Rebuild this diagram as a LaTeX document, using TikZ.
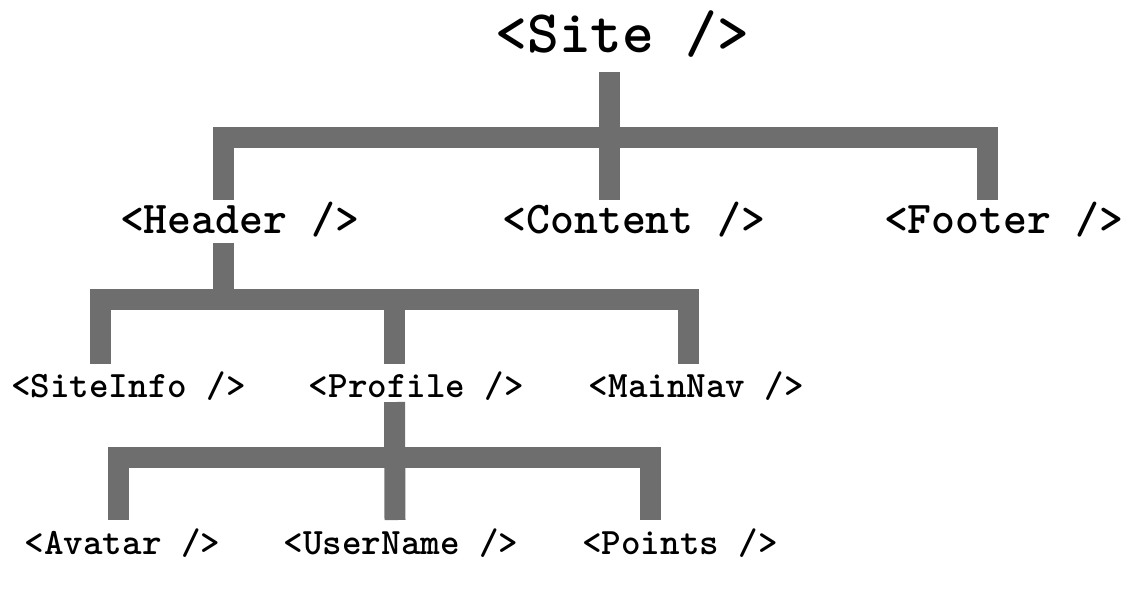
\documentclass[tikz,border=0pt]{standalone}
\usepackage{fontspec}
\usepackage{xcolor}
\usepackage{tikz}

\begin{document}
\begin{tikzpicture}[x=0.02cm,y=-0.02cm]
    \definecolor{mygray}{RGB}{110,110,110}
    \tikzstyle{tag}=[font=\ttfamily\bfseries,inner sep=0pt,anchor=base]  % component label
    \tikzstyle{bar}=[draw=mygray,line width=0.42cm]  % thick tree line
    \useasboundingbox (0,0) rectangle (1146,593);

    % labels
    \node[tag,font=\ttfamily\bfseries\fontsize{34.4pt}{40pt}\selectfont] (site) at (622.5,52) {<Site />};
    \node[tag,font=\ttfamily\bfseries\fontsize{25.9pt}{30pt}\selectfont] (header) at (239.5,233) {<Header />};
    \node[tag,font=\ttfamily\bfseries\fontsize{25.9pt}{30pt}\selectfont] (content) at (634,233) {<Content />};
    \node[tag,font=\ttfamily\bfseries\fontsize{25.9pt}{30pt}\selectfont] (footer) at (1003.5,233) {<Footer />};
    \node[tag,font=\ttfamily\bfseries\fontsize{21.2pt}{25pt}\selectfont] (siteinfo) at (128.5,397) {<SiteInfo />};
    \node[tag,font=\ttfamily\bfseries\fontsize{21.2pt}{25pt}\selectfont] (profile) at (416.5,397) {<Profile />};
    \node[tag,font=\ttfamily\bfseries\fontsize{21.2pt}{25pt}\selectfont] (mainnav) at (696.5,397) {<MainNav />};
    \node[tag,font=\ttfamily\bfseries\fontsize{21.2pt}{25pt}\selectfont] (avatar) at (122.5,554) {<Avatar />};
    \node[tag,font=\ttfamily\bfseries\fontsize{21.2pt}{25pt}\selectfont] (username) at (401,554) {<UserName />};
    \node[tag,font=\ttfamily\bfseries\fontsize{21.2pt}{25pt}\selectfont] (points) at (680,554) {<Points />};

    % line ends
    \coordinate (site-out) at (609,72);
    \coordinate (header-in) at (223,200);
    \coordinate (content-in) at (609,200);
    \coordinate (footer-in) at (987.5,200);
    \coordinate (header-out) at (223,243);
    \coordinate (siteinfo-in) at (100.5,364);
    \coordinate (profile-in) at (394.5,364);
    \coordinate (mainnav-in) at (688.5,364);
    \coordinate (profile-out) at (394.5,402);
    \coordinate (avatar-in) at (118.5,520);
    \coordinate (username-in) at (395,520);
    \coordinate (points-in) at (650,520);
    \coordinate (busA) at (0,137);
    \coordinate (busB) at (0,299.5);
    \coordinate (busC) at (0,457);

    % <Site /> children
    \draw[bar](site-out)--(content-in);
    \draw[bar](header-in)--(header-in |- busA)--(footer-in |- busA)--(footer-in);
    % <Header /> children
    \draw[bar](header-out)--(header-out |- busB);
    \draw[bar](siteinfo-in)--(siteinfo-in |- busB)--(mainnav-in |- busB)--(mainnav-in);
    \draw[bar](profile-in |- busB)--(profile-in);
    % <Profile /> children
    \draw[bar](profile-out)--(username-in);
    \draw[bar](avatar-in)--(avatar-in |- busC)--(points-in |- busC)--(points-in);
\end{tikzpicture}
\end{document}
